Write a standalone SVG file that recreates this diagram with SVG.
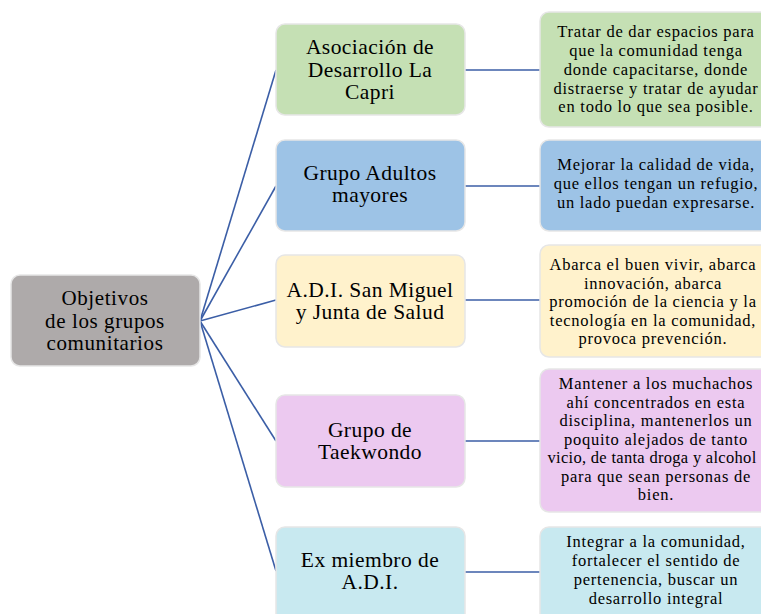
<svg xmlns="http://www.w3.org/2000/svg" width="761" height="614" viewBox="0 0 761 614">
<style>
.box{stroke:#e6e6e6;stroke-width:1.5}
.t{font-family:"Liberation Serif","Times New Roman",serif;fill:#000;text-anchor:middle}
.m{font-size:21.5px;letter-spacing:0.45px}
.r{font-size:21px;letter-spacing:0.6px}
.s{font-size:16.5px;letter-spacing:0.75px}
.c{stroke:#3b5ea6;stroke-width:1.6;fill:none}
</style>
<rect width="761" height="614" fill="#ffffff"/>
<g id="connectors">
<line class="c" x1="200" y1="321" x2="276" y2="70"/>
<line class="c" x1="200" y1="321" x2="276" y2="186"/>
<line class="c" x1="200" y1="321" x2="276" y2="300"/>
<line class="c" x1="200" y1="321" x2="276" y2="441"/>
<line class="c" x1="200" y1="321" x2="276" y2="571"/>
<line class="c" x1="465" y1="70" x2="540" y2="70"/>
<line class="c" x1="465" y1="186" x2="540" y2="186"/>
<line class="c" x1="465" y1="300" x2="540" y2="300"/>
<line class="c" x1="465" y1="441" x2="540" y2="441"/>
<line class="c" x1="465" y1="572" x2="540" y2="572"/>
</g>
<g id="root">
<rect class="box" x="11" y="275" width="189" height="91" rx="9" fill="#aeaaaa"/>
<text class="t r" x="105" y="305">Objetivos</text>
<text class="t r" x="105" y="328">de los grupos</text>
<text class="t r" x="105" y="350">comunitarios</text>
</g>
<g id="n1">
<rect class="box" x="276" y="24" width="189" height="91" rx="9" fill="#c5e0b4"/>
<text class="t m" x="370" y="54">Asociación de</text>
<text class="t m" x="370" y="77">Desarrollo La</text>
<text class="t m" x="370" y="99">Capri</text>
</g>
<g id="n2">
<rect class="box" x="276" y="140" width="189" height="91" rx="9" fill="#9dc3e6"/>
<text class="t m" x="370" y="180">Grupo Adultos</text>
<text class="t m" x="370" y="202">mayores</text>
</g>
<g id="n3">
<rect class="box" x="276" y="255" width="189" height="92" rx="9" fill="#fff2cc"/>
<text class="t m" x="370" y="297">A.D.I. San Miguel</text>
<text class="t m" x="370" y="319">y Junta de Salud</text>
</g>
<g id="n4">
<rect class="box" x="276" y="395" width="189" height="92" rx="9" fill="#ecc9f0"/>
<text class="t m" x="370" y="437">Grupo de</text>
<text class="t m" x="370" y="459">Taekwondo</text>
</g>
<g id="n5">
<rect class="box" x="276" y="527" width="189" height="100" rx="9" fill="#c8e9f0"/>
<text class="t m" x="370" y="567">Ex miembro de</text>
<text class="t m" x="370" y="589">A.D.I.</text>
</g>
<g id="d1">
<rect class="box" x="540" y="12" width="235" height="115" rx="9" fill="#c5e0b4"/>
<text class="t s" x="656" y="37">Tratar de dar espacios para</text>
<text class="t s" x="656" y="56">que la comunidad tenga</text>
<text class="t s" x="656" y="75">donde capacitarse, donde</text>
<text class="t s" x="656" y="93.5">distraerse y tratar de ayudar</text>
<text class="t s" x="656" y="112">en todo lo que sea posible.</text>
</g>
<g id="d2">
<rect class="box" x="540" y="140" width="235" height="91" rx="9" fill="#9dc3e6"/>
<text class="t s" x="656" y="170">Mejorar la calidad de vida,</text>
<text class="t s" x="656" y="189">que ellos tengan un refugio,</text>
<text class="t s" x="656" y="208">un lado puedan expresarse.</text>
</g>
<g id="d3">
<rect class="box" x="540" y="245" width="235" height="112" rx="9" fill="#fff2cc"/>
<text class="t s" x="653" y="270">Abarca el buen vivir, abarca</text>
<text class="t s" x="653" y="288.5">innovación, abarca</text>
<text class="t s" x="653" y="307">promoción de la ciencia y la</text>
<text class="t s" x="653" y="325.5">tecnología en la comunidad,</text>
<text class="t s" x="653" y="344">provoca prevención.</text>
</g>
<g id="d4">
<rect class="box" x="540" y="369" width="235" height="143" rx="9" fill="#ecc9f0"/>
<text class="t s" x="656" y="389">Mantener a los muchachos</text>
<text class="t s" x="656" y="407.5">ahí concentrados en esta</text>
<text class="t s" x="656" y="426">disciplina, mantenerlos un</text>
<text class="t s" x="656" y="444.5">poquito alejados de tanto</text>
<text class="t s" x="652" y="463" style="letter-spacing:0.3px">vicio, de tanta droga y alcohol</text>
<text class="t s" x="656" y="481.5">para que sean personas de</text>
<text class="t s" x="656" y="500">bien.</text>
</g>
<g id="d5">
<rect class="box" x="540" y="527" width="235" height="100" rx="9" fill="#c8e9f0"/>
<text class="t s" x="656" y="547">Integrar a la comunidad,</text>
<text class="t s" x="656" y="566">fortalecer el sentido de</text>
<text class="t s" x="656" y="585">pertenencia, buscar un</text>
<text class="t s" x="656" y="604">desarrollo integral</text>
</g>
</svg>
